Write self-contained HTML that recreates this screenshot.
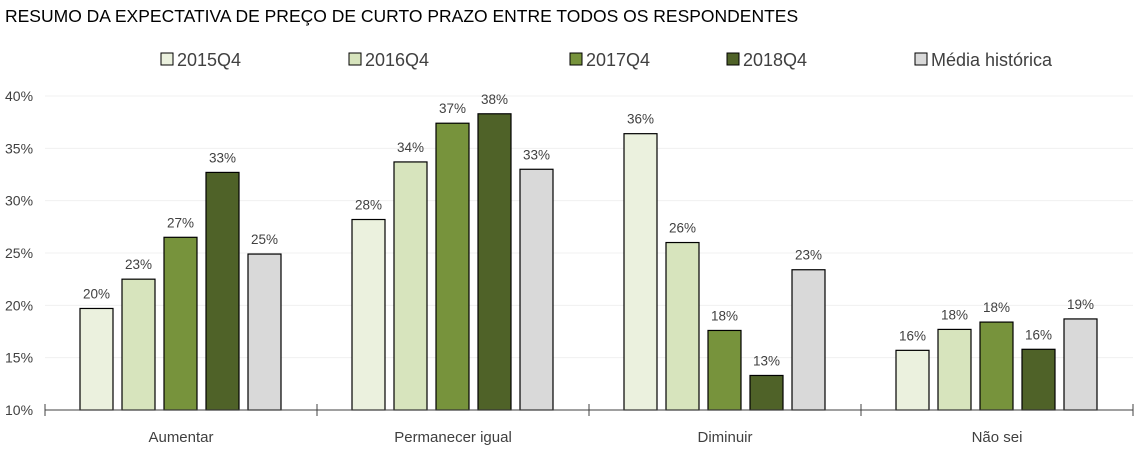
<!DOCTYPE html>
<html><head><meta charset="utf-8"><style>
body{margin:0;background:#fff;font-family:"Liberation Sans",sans-serif;}
svg text{font-family:"Liberation Sans",sans-serif;fill:#404040;}
</style></head><body>
<svg width="1137" height="450">
<text x="5" y="22" font-size="17.5" style="fill:#000">RESUMO DA EXPECTATIVA DE PREÇO DE CURTO PRAZO ENTRE TODOS OS RESPONDENTES</text>
<g id="legend"></g>
<g id="grid"></g>
<g id="bars"></g>
<g id="axis"></g>
</svg>
<script>
const categories=["Aumentar","Permanecer igual","Diminuir","Não sei"];
const seriesNames=["2015Q4","2016Q4","2017Q4","2018Q4","Média histórica"];
const s2015=[19.7,28.2,36.4,15.7];
const s2016=[22.5,33.7,26.0,17.7];
const s2017=[26.5,37.4,17.6,18.4];
const s2018=[32.7,38.3,13.3,15.8];
const sMedia=[24.9,33.0,23.4,18.7];
const yTicks=[10,15,20,25,30,35,40];
const series=[s2015,s2016,s2017,s2018,sMedia];
const colors=["#ebf1de","#d7e4bd","#77933c","#4f6228","#d9d9d9"];
const NS="http://www.w3.org/2000/svg";
const x0=45,x1=1133,yBase=410,yTop=96;
const y=v=>yBase-(v-10)/30*(yBase-yTop);
const gw=(x1-x0)/categories.length;
function mk(t,a,p){const e=document.createElementNS(NS,t);for(const k in a)e.setAttribute(k,a[k]);p.appendChild(e);return e;}
const grid=document.getElementById('grid'),bars=document.getElementById('bars'),axis=document.getElementById('axis'),legend=document.getElementById('legend');
yTicks.forEach(t=>{
 if(t>10){const l=mk('line',{x1:x0,x2:x1,y1:y(t),y2:y(t),stroke:'#f0f0f0','stroke-width':1},grid);
 
 }
 const tx=mk('text',{x:5,y:y(t)+5,'font-size':14},grid);tx.textContent=t+'%';
 
 
});
categories.forEach((c,i)=>{
 const gx=x0+i*gw;
 series.forEach((s,j)=>{
  const bx=gx+35+j*42, by=y(s[i]);
  const r=mk('rect',{x:bx,y:by,width:33,height:yBase-by,fill:colors[j],stroke:'#000','stroke-width':1.2},bars);
  
  
  const t=mk('text',{x:bx+16.5,y:by-10,'text-anchor':'middle','font-size':13.5},bars);t.textContent=Math.round(s[i])+'%';
  
  
 });
 const ct=mk('text',{x:gx+gw/2,y:442,'text-anchor':'middle','font-size':15},axis);ct.textContent=c;
 
 
});
const al=mk('line',{x1:x0,x2:x1,y1:yBase,y2:yBase,stroke:'#404040','stroke-width':1},axis);


for(let i=0;i<=categories.length;i++){const tk=mk('line',{x1:x0+i*gw,x2:x0+i*gw,y1:404,y2:416,stroke:'#404040'},axis);
 
 }
const lx=[161,349,570,727,915];
seriesNames.forEach((n,j)=>{
 const g=mk('g',{},legend);
 
 
 mk('rect',{x:lx[j],y:53,width:12,height:12,fill:colors[j],stroke:'#000','stroke-width':1},g);
 const t=mk('text',{x:lx[j]+16,y:66,'font-size':18},g);t.textContent=n;
});
</script>
</body></html>
